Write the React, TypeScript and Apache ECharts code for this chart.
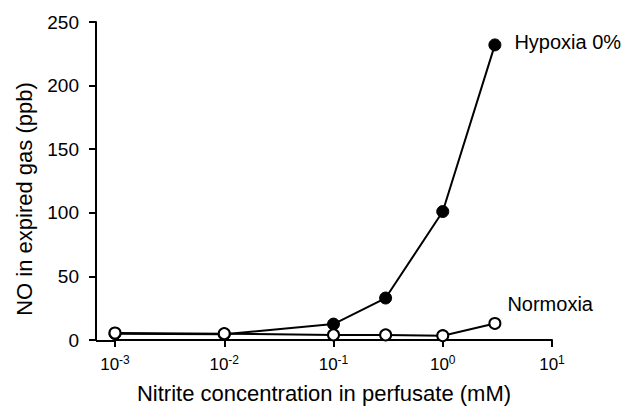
import React, { useEffect, useRef } from "react";
import * as echarts from "echarts";

const concentrations = [0.001, 0.01, 0.1, 0.3, 1, 3];
const hypoxia = [5, 4.5, 12.5, 33, 101, 232];
const normoxia = [5.5, 5, 4, 4, 3.4, 13];
const yTicks = { min: 0, max: 250, interval: 50 };
const xRange = { min: 0.001, max: 10 };
const seriesNames = ["Hypoxia 0%", "Normoxia"];

const FONT = "'Liberation Sans', Arial, Helvetica, sans-serif";

export default function App() {
  const ref = useRef<HTMLDivElement>(null);
  useEffect(() => {
    if (!ref.current) return;
    const chart = echarts.init(ref.current, undefined, { renderer: "svg" });
    const mk = (vals: number[], name: string, labelOpt: any) =>
      vals.map((v, i) => {
        const item: any = { value: [concentrations[i], v] };
        if (i === vals.length - 1) {
          item.label = { show: true, formatter: name, ...labelOpt };
        }
        return item;
      });
    chart.setOption({
      animation: false,
      backgroundColor: "#fff",
      textStyle: { fontFamily: FONT, color: "#000" },
      grid: { left: 115, right: 71, top: 22, bottom: 68 },
      xAxis: {
        type: "log",
        logBase: 10,
        min: xRange.min,
        max: xRange.max,
        name: "Nitrite concentration in perfusate (mM)",
        nameLocation: "middle",
        nameGap: 42,
        nameTextStyle: { fontSize: 22, color: "#000", fontFamily: FONT, padding: [0, 19, 0, 0] },
        axisLine: { lineStyle: { color: "#000", width: 2 } },
        axisTick: { length: 7, lineStyle: { color: "#000", width: 2 } },
        splitLine: { show: false },
        minorTick: { show: false },
        axisLabel: {
          margin: 14,
          formatter: (v: number) => `{b|10}{s|${Math.round(Math.log10(v))}}`,
          rich: {
            b: { fontSize: 17, fontFamily: FONT, color: "#000", verticalAlign: "bottom", lineHeight: 19 },
            s: { fontSize: 12, fontFamily: FONT, color: "#000", verticalAlign: "top", lineHeight: 19 },
          },
        },
      },
      yAxis: {
        type: "value",
        min: yTicks.min,
        max: yTicks.max,
        interval: yTicks.interval,
        offset: 19,
        name: "NO in expired gas (ppb)",
        nameLocation: "middle",
        nameGap: 61,
        nameTextStyle: { fontSize: 22, color: "#000", fontFamily: FONT, padding: [0, 36, 0, 0] },
        axisLine: { show: true, lineStyle: { color: "#000", width: 2 } },
        axisTick: { show: true, length: 7, lineStyle: { color: "#000", width: 2 } },
        splitLine: { show: false },
        axisLabel: { margin: 17, fontSize: 19, color: "#000", fontFamily: FONT },
      },
      graphic: [
        {
          type: "line",
          shape: { x1: 96, y1: 341, x2: 116, y2: 341 },
          style: { stroke: "#000", lineWidth: 2 },
        },
      ],
      series: [
        {
          name: seriesNames[0],
          type: "line",
          data: mk(hypoxia, seriesNames[0], {
            position: "right",
            distance: 13,
            fontSize: 20,
            color: "#000",
            fontFamily: FONT,
            offset: [0, -3],
          }),
          symbol: "circle",
          symbolSize: 12,
          lineStyle: { color: "#000", width: 2 },
          itemStyle: { color: "#000", borderColor: "#000", borderWidth: 1 },
          z: 2,
        },
        {
          name: seriesNames[1],
          type: "line",
          data: mk(normoxia, seriesNames[1], {
            position: "right",
            distance: 6,
            fontSize: 20,
            color: "#000",
            fontFamily: FONT,
            offset: [0, -19],
          }),
          symbol: "circle",
          symbolSize: 11,
          lineStyle: { color: "#000", width: 2 },
          itemStyle: { color: "#fff", borderColor: "#000", borderWidth: 2 },
          z: 3,
        },
      ],
    });
    return () => chart.dispose();
  }, []);
  return (
    <div
      ref={ref}
      style={{ position: "fixed", left: 0, top: 0, width: 623, height: 409 }}
    />
  );
}
